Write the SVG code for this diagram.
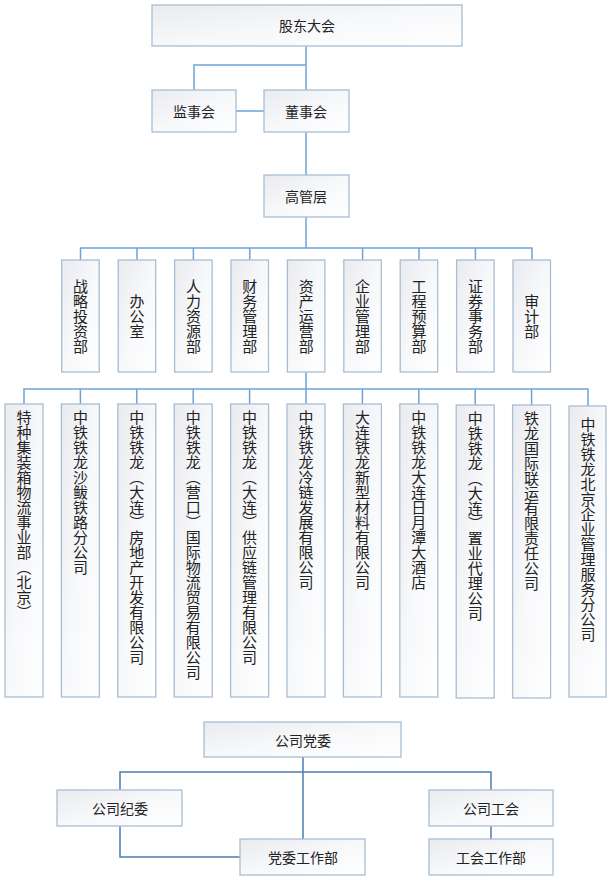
<svg xmlns="http://www.w3.org/2000/svg" width="611" height="878" viewBox="0 0 611 878">
<defs>
<linearGradient id="g" x1="0" y1="0" x2="1" y2="1"><stop offset="0" stop-color="#e9ebef"/><stop offset="0.5" stop-color="#f7f8fa"/><stop offset="1" stop-color="#ffffff"/></linearGradient>
<style>
rect{fill:url(#g);stroke:#a9bdd3;stroke-width:1.3}
text{font-family:"Noto Sans CJK SC","Noto Sans",sans-serif;font-size:14px;fill:#222;text-anchor:middle;dominant-baseline:central}
.v{writing-mode:vertical-rl;font-size:15px}
.vs{writing-mode:vertical-rl;font-size:15px;text-anchor:start}
.c1{fill:none;stroke:#6fa3d6;stroke-width:1.5}
.c2{fill:none;stroke:#4e7eae;stroke-width:1.5}
</style>
</defs>
<g id="connectors">
<path class="c1" d="M306 46V90M194 90V65H306M236 111H264M306 132V175M306 217V248M80.5 260V248H532V260M137 248V260M193.4 248V260M249.8 248V260M362.6 248V260M419 248V260M475.4 248V260M306 372V389M24 404V389H588V406"/>
<path class="c1" d="M80.4 389V404M136.8 389V404M193.2 389V404M249.6 389V404M306 389V404M362.4 389V404M418.8 389V404M475.2 389V405M531.6 389V405"/>
<path class="c2" d="M303 757V839M120 790V772H491V790M120 826V857H240M491 826V839"/>
</g>
<g id="n-gudong"><rect x="152" y="5" width="310" height="41"/><text x="307" y="25">股东大会</text></g>
<g id="n-jianshi"><rect x="152" y="90" width="84" height="42"/><text x="194" y="111">监事会</text></g>
<g id="n-dongshi"><rect x="264" y="90" width="85" height="42"/><text x="306" y="111">董事会</text></g>
<g id="n-gaoguan"><rect x="264" y="175" width="85" height="42"/><text x="306" y="196">高管层</text></g>
<g id="d1"><rect x="61.7" y="260" width="37.5" height="112"/><text class="v" x="80.5" y="316">战略投资部</text></g>
<g id="d2"><rect x="118.2" y="260" width="37.5" height="112"/><text class="v" x="137" y="316">办公室</text></g>
<g id="d3"><rect x="174.6" y="260" width="37.5" height="112"/><text class="v" x="193.4" y="316">人力资源部</text></g>
<g id="d4"><rect x="231" y="260" width="37.5" height="112"/><text class="v" x="249.8" y="316">财务管理部</text></g>
<g id="d5"><rect x="287.4" y="260" width="37.5" height="112"/><text class="v" x="306.2" y="316">资产运营部</text></g>
<g id="d6"><rect x="343.8" y="260" width="37.5" height="112"/><text class="v" x="362.6" y="316">企业管理部</text></g>
<g id="d7"><rect x="400.2" y="260" width="37.5" height="112"/><text class="v" x="419" y="316">工程预算部</text></g>
<g id="d8"><rect x="456.6" y="260" width="37.5" height="112"/><text class="v" x="475.4" y="316">证券事务部</text></g>
<g id="d9"><rect x="513" y="260" width="37.5" height="112"/><text class="v" x="531.8" y="316">审计部</text></g>
<g id="s1"><rect x="5" y="404" width="38" height="293"/><text class="vs" x="24" y="410">特种集装箱物流事业部（北京）</text></g>
<g id="s2"><rect x="61.4" y="404" width="38" height="293"/><text class="vs" x="80.4" y="410">中铁铁龙沙鲅铁路分公司</text></g>
<g id="s3"><rect x="117.8" y="404" width="38" height="293"/><text class="vs" x="136.8" y="410">中铁铁龙（大连）房地产开发有限公司</text></g>
<g id="s4"><rect x="174.2" y="404" width="38" height="293"/><text class="vs" x="193.2" y="410">中铁铁龙（营口）国际物流贸易有限公司</text></g>
<g id="s5"><rect x="230.6" y="404" width="38" height="293"/><text class="vs" x="249.6" y="410">中铁铁龙（大连）供应链管理有限公司</text></g>
<g id="s6"><rect x="287" y="404" width="38" height="293"/><text class="vs" x="306" y="410">中铁铁龙冷链发展有限公司</text></g>
<g id="s7"><rect x="343.4" y="404" width="38" height="293"/><text class="vs" x="362.4" y="410">大连铁龙新型材料有限公司</text></g>
<g id="s8"><rect x="399.8" y="404" width="38" height="293"/><text class="vs" x="418.8" y="410">中铁铁龙大连日月潭大酒店</text></g>
<g id="s9"><rect x="456.2" y="405" width="38" height="293"/><text class="vs" x="475.2" y="411">中铁铁龙（大连）置业代理公司</text></g>
<g id="s10"><rect x="512.6" y="405" width="38" height="293"/><text class="vs" x="531.6" y="411">铁龙国际联运有限责任公司</text></g>
<g id="s11"><rect x="569" y="406" width="37" height="291"/><text class="vs" x="588" y="417">中铁铁龙北京企业管理服务分公司</text></g>
<g id="p1"><rect x="204" y="722" width="197" height="35"/><text x="303" y="740">公司党委</text></g>
<g id="p2"><rect x="57" y="790" width="125" height="36"/><text x="120" y="808">公司纪委</text></g>
<g id="p3"><rect x="429" y="790" width="124" height="36"/><text x="491" y="808">公司工会</text></g>
<g id="p4"><rect x="240" y="839" width="125" height="36"/><text x="303" y="857">党委工作部</text></g>
<g id="p5"><rect x="429" y="839" width="124" height="36"/><text x="491" y="857">工会工作部</text></g>
</svg>
